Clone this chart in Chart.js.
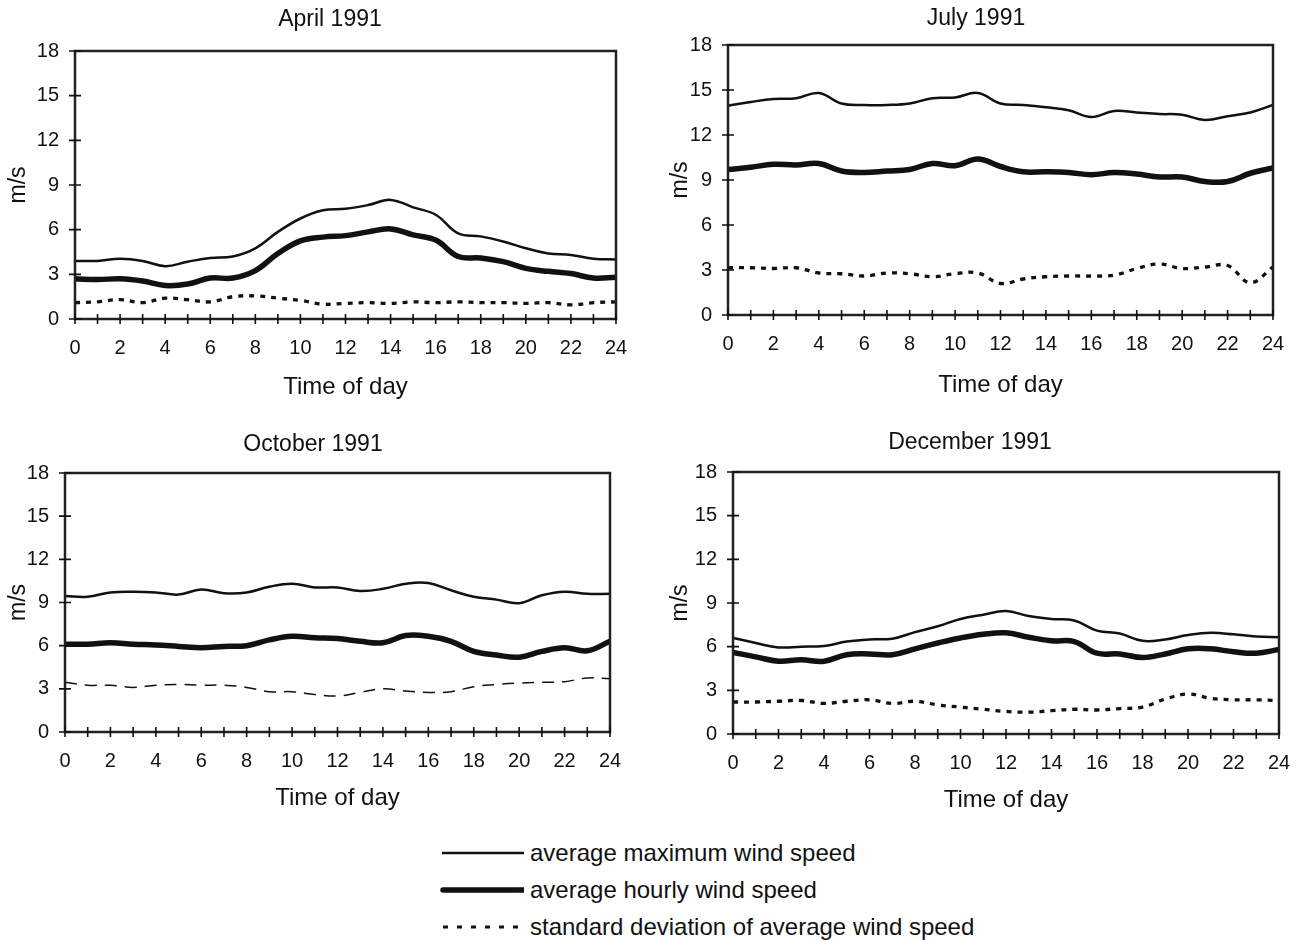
<!DOCTYPE html>
<html>
<head>
  <title>Wind speed 1991</title>
  <script src="https://cdn.jsdelivr.net/npm/chart.js"></script>
  <style>
    body { margin: 0; background: #fff; width: 1300px; height: 941px; position: relative; overflow: hidden; }
    .panel { position: absolute; }
    #legend { position: absolute; left: 440px; top: 834px; font-family: "Liberation Sans", Arial, sans-serif; font-size: 24px; color: #111; }
    #legend .row { display: flex; align-items: center; height: 37px; }
    #legend svg { margin-right: 6px; }
  </style>
</head>
<body>
  <div class="panel" style="left:0;top:0"><canvas id="april"></canvas></div>
  <div class="panel" style="left:650px;top:0"><canvas id="july"></canvas></div>
  <div class="panel" style="left:0;top:420px"><canvas id="october"></canvas></div>
  <div class="panel" style="left:650px;top:420px"><canvas id="december"></canvas></div>

  <div id="legend">
    <div class="row"><svg width="84" height="10"><line x1="2" y1="5" x2="84" y2="5" stroke="#111" stroke-width="2.5"/></svg>average maximum wind speed</div>
    <div class="row"><svg width="84" height="10"><line x1="3" y1="5" x2="84" y2="5" stroke="#111" stroke-width="5.5" stroke-linecap="round"/></svg>average hourly wind speed</div>
    <div class="row"><svg width="84" height="10"><line x1="3" y1="5" x2="84" y2="5" stroke="#111" stroke-width="3" stroke-dasharray="5 9"/></svg>standard deviation of average wind speed</div>
  </div>

  <script>
    const hours = [0,1,2,3,4,5,6,7,8,9,10,11,12,13,14,15,16,17,18,19,20,21,22,23,24];

    const aprilMax = [3.9,3.9,4.05,3.9,3.55,3.85,4.1,4.2,4.75,5.85,6.75,7.3,7.4,7.65,8.0,7.5,7.0,5.75,5.55,5.2,4.75,4.4,4.3,4.05,4.0];
    const aprilAvg = [2.7,2.65,2.7,2.55,2.25,2.35,2.75,2.75,3.25,4.4,5.25,5.5,5.6,5.85,6.05,5.65,5.3,4.2,4.1,3.85,3.4,3.2,3.05,2.75,2.8];
    const aprilSd  = [1.1,1.15,1.3,1.1,1.4,1.3,1.15,1.5,1.55,1.4,1.25,1.0,1.05,1.1,1.05,1.15,1.1,1.15,1.1,1.1,1.05,1.1,0.95,1.1,1.15];

    const julyMax = [13.95,14.2,14.4,14.45,14.8,14.1,14.0,14.0,14.1,14.45,14.5,14.8,14.1,14.0,13.85,13.65,13.2,13.6,13.5,13.4,13.35,13.0,13.25,13.5,14.0];
    const julyAvg = [9.7,9.85,10.05,10.0,10.1,9.6,9.5,9.6,9.7,10.1,9.95,10.4,9.9,9.55,9.55,9.5,9.35,9.5,9.4,9.2,9.2,8.9,8.9,9.45,9.8];
    const julySd  = [3.15,3.15,3.1,3.15,2.8,2.75,2.6,2.8,2.75,2.55,2.75,2.8,2.1,2.4,2.55,2.6,2.6,2.65,3.1,3.4,3.1,3.2,3.3,2.15,3.2];

    const octoberMax = [9.45,9.4,9.7,9.75,9.7,9.55,9.9,9.65,9.7,10.1,10.3,10.05,10.05,9.8,9.95,10.3,10.35,9.85,9.4,9.2,8.95,9.5,9.75,9.6,9.6];
    const octoberAvg = [6.1,6.1,6.2,6.1,6.05,5.95,5.85,5.95,6.0,6.4,6.65,6.55,6.5,6.3,6.2,6.7,6.65,6.3,5.6,5.35,5.2,5.6,5.85,5.65,6.3];
    const octoberSd  = [3.45,3.25,3.25,3.1,3.25,3.3,3.25,3.25,3.1,2.8,2.8,2.6,2.5,2.75,3.0,2.85,2.75,2.8,3.15,3.3,3.4,3.45,3.5,3.75,3.7];

    const decemberMax = [6.6,6.25,5.95,6.0,6.05,6.35,6.5,6.55,7.0,7.4,7.9,8.2,8.45,8.1,7.9,7.8,7.1,6.9,6.4,6.5,6.8,6.95,6.85,6.7,6.65];
    const decemberAvg = [5.6,5.3,5.0,5.1,5.0,5.45,5.5,5.45,5.85,6.25,6.6,6.85,6.95,6.65,6.4,6.35,5.55,5.5,5.25,5.5,5.85,5.85,5.65,5.55,5.8];
    const decemberSd  = [2.2,2.2,2.25,2.3,2.1,2.25,2.35,2.1,2.25,2.0,1.85,1.7,1.55,1.5,1.6,1.7,1.65,1.75,1.85,2.4,2.75,2.45,2.35,2.35,2.3];

    const yTicks = [0,3,6,9,12,15,18];
    const fontFamily = '"Liberation Sans", Arial, sans-serif';
    const ink = '#111';

    // frame box + ticks that cross the axis lines, plus the panel title
    const framePlugin = {
      id: 'frame',
      afterDatasetsDraw(chart, args, opts) {
        const { ctx, chartArea: a, scales } = chart;
        ctx.save();
        ctx.strokeStyle = '#222';
        ctx.lineWidth = 2.5;
        ctx.strokeRect(a.left, a.top, a.right - a.left, a.bottom - a.top);
        ctx.lineWidth = 1.6;
        ctx.strokeStyle = ink;
        ctx.beginPath();
        hours.forEach(h => {
          const x = scales.x.getPixelForValue(h);
          ctx.moveTo(x, a.bottom - 5);
          ctx.lineTo(x, a.bottom + 5);
        });
        yTicks.forEach(v => {
          const y = scales.y.getPixelForValue(v);
          ctx.moveTo(a.left - 6, y);
          ctx.lineTo(a.left + 6, y);
        });
        ctx.stroke();
        ctx.fillStyle = ink;
        ctx.font = '23px ' + fontFamily;
        ctx.textAlign = 'center';
        ctx.textBaseline = 'middle';
        ctx.fillText(opts.text, opts.x, opts.y);
        ctx.restore();
      }
    };

    function pts(vals) {
      return hours.map((h, i) => ({ x: h, y: vals[i] }));
    }

    function makePanel(id, p) {
      const canvas = document.getElementById(id);
      const width = p.R - p.cl + 14;
      const height = p.B - p.ct + 92;
      canvas.width = width;
      canvas.height = height;
      canvas.style.width = width + 'px';
      canvas.style.height = height + 'px';

      new Chart(canvas, {
        type: 'line',
        data: {
          datasets: [
            { label: 'average maximum wind speed', data: pts(p.max), borderColor: ink, borderWidth: 2.5, tension: 0.4 },
            { label: 'average hourly wind speed', data: pts(p.avg), borderColor: ink, borderWidth: 5.5, tension: 0.4 },
            { label: 'standard deviation of average wind speed', data: pts(p.sd), borderColor: ink,
              borderWidth: p.sdWidth, borderDash: p.sdDash, tension: 0.4 }
          ]
        },
        options: {
          responsive: false,
          animation: false,
          events: [],
          elements: { point: { radius: 0 } },
          layout: { padding: { top: p.T - p.ct, right: 14, left: 0, bottom: 0 } },
          plugins: {
            legend: { display: false },
            tooltip: { enabled: false },
            frame: { text: p.title, x: p.titleX - p.cl, y: p.titleY - p.ct }
          },
          scales: {
            x: {
              type: 'linear',
              min: 0, max: 24,
              afterFit: s => { s.height = 92; s.paddingLeft = 0; s.paddingRight = 0; },
              grid: { display: true, drawOnChartArea: false, drawTicks: false },
              border: { display: false },
              ticks: {
                stepSize: 1, autoSkip: false, maxRotation: 0, padding: 17,
                color: ink, font: { family: fontFamily, size: 20 },
                callback: v => (v % 2 === 0 ? String(v) : '')
              },
              title: {
                display: true, text: 'Time of day', color: ink,
                font: { family: fontFamily, size: 24 }, padding: { top: 0, bottom: p.xtPad }
              }
            },
            y: {
              min: 0, max: 18,
              afterFit: s => { s.width = p.L - p.cl; s.paddingTop = 0; s.paddingBottom = 0; },
              grid: { display: true, drawOnChartArea: false, drawTicks: false },
              border: { display: false },
              ticks: { stepSize: 3, padding: 16, color: ink, font: { family: fontFamily, size: 20 } },
              title: {
                display: true, text: 'm/s', color: ink,
                font: { family: fontFamily, size: 23 }, padding: { top: p.ytPad, bottom: 0 }
              }
            }
          }
        },
        plugins: [framePlugin]
      });
    }

    makePanel('april', {
      title: 'April 1991', titleX: 330, titleY: 20,
      cl: 0, ct: 0, L: 75, R: 616, T: 51, B: 319, xtPad: 9, ytPad: 5,
      max: aprilMax, avg: aprilAvg, sd: aprilSd, sdWidth: 3.3, sdDash: [5, 6]
    });
    makePanel('july', {
      title: 'July 1991', titleX: 976, titleY: 19,
      cl: 650, ct: 0, L: 728, R: 1273, T: 45, B: 315, xtPad: 7, ytPad: 17,
      max: julyMax, avg: julyAvg, sd: julySd, sdWidth: 3.3, sdDash: [5, 6]
    });
    makePanel('october', {
      title: 'October 1991', titleX: 313, titleY: 445,
      cl: 0, ct: 420, L: 65, R: 610, T: 473, B: 732, xtPad: 11, ytPad: 5,
      max: octoberMax, avg: octoberAvg, sd: octoberSd, sdWidth: 1.5, sdDash: [12, 8]
    });
    makePanel('december', {
      title: 'December 1991', titleX: 970, titleY: 443,
      cl: 650, ct: 420, L: 733, R: 1279, T: 472, B: 734, xtPad: 11, ytPad: 17,
      max: decemberMax, avg: decemberAvg, sd: decemberSd, sdWidth: 3.3, sdDash: [5, 6]
    });
  </script>
</body>
</html>
